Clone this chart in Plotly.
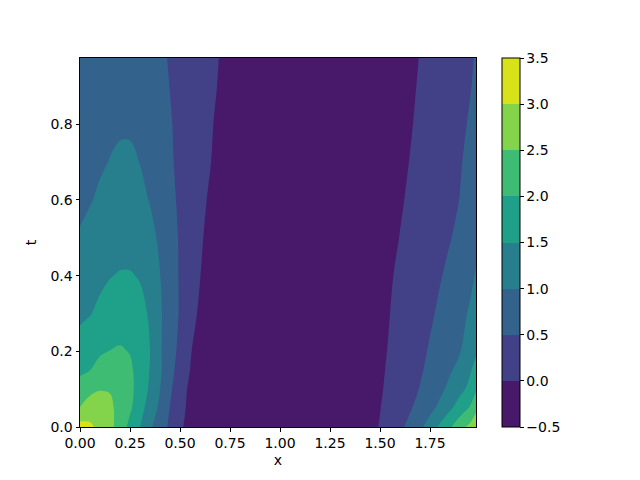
import plotly.graph_objects as go

# grid
X_NODES = [0.0, 0.05, 0.1, 0.15, 0.2, 0.25, 0.3, 0.35, 0.4, 0.45, 0.5, 0.6, 0.7,
           0.8, 1.0, 1.2, 1.4, 1.5, 1.6, 1.7, 1.75, 1.8, 1.85, 1.9, 1.95, 1.98]
T_NODES = [0.0, 0.05, 0.1, 0.15, 0.2, 0.3, 0.4, 0.5, 0.6, 0.7, 0.8, 0.9, 0.975]

# u(x, t), one row per t value
U = [
    [3.2, 3.1, 2.85, 2.62, 2.3, 1.85, 1.5, 1.08, 0.72, 0.42, 0.05, -0.25, -0.3,
     -0.3, -0.3, -0.3, -0.2, 0.02, 0.4, 0.9, 1.2, 1.6, 1.95, 2.35, 2.62, 2.78],
    [2.52, 2.72, 2.72, 2.6, 2.33, 2.08, 1.68, 1.28, 0.9, 0.48, 0.1, -0.25, -0.32,
     -0.33, -0.33, -0.32, -0.22, -0.01, 0.27, 0.65, 0.88, 1.1, 1.42, 1.72, 2.05, 2.4],
    [2.2, 2.38, 2.48, 2.47, 2.3, 2.12, 1.8, 1.42, 1.0, 0.6, 0.12, -0.22, -0.33,
     -0.35, -0.35, -0.33, -0.22, -0.04, 0.22, 0.52, 0.72, 0.9, 1.12, 1.38, 1.62, 1.93],
    [1.91, 2.0, 2.17, 2.25, 2.22, 2.08, 1.82, 1.48, 1.06, 0.7, 0.25, -0.25, -0.35,
     -0.37, -0.37, -0.35, -0.22, -0.06, 0.18, 0.45, 0.6, 0.78, 0.95, 1.15, 1.45, 1.65],
    [1.7, 1.82, 1.94, 2.01, 2.05, 1.98, 1.8, 1.5, 1.05, 0.75, 0.35, -0.25, -0.37,
     -0.39, -0.4, -0.37, -0.23, -0.08, 0.15, 0.38, 0.55, 0.7, 0.85, 0.98, 1.25, 1.45],
    [1.41, 1.48, 1.6, 1.7, 1.74, 1.72, 1.63, 1.45, 1.05, 0.78, 0.45, -0.08, -0.33,
     -0.4, -0.42, -0.4, -0.25, -0.12, 0.12, 0.3, 0.43, 0.58, 0.72, 0.88, 1.05, 1.17],
    [1.22, 1.3, 1.4, 1.48, 1.53, 1.53, 1.47, 1.25, 1.01, 0.75, 0.45, 0.01, -0.28,
     -0.4, -0.43, -0.42, -0.27, -0.16, 0.08, 0.25, 0.36, 0.47, 0.6, 0.75, 0.9, 1.03],
    [1.03, 1.1, 1.2, 1.28, 1.32, 1.32, 1.25, 1.12, 0.93, 0.7, 0.45, 0.05, -0.25,
     -0.4, -0.44, -0.43, -0.3, -0.2, 0.01, 0.2, 0.3, 0.4, 0.48, 0.6, 0.78, 0.9],
    [0.93, 0.98, 1.05, 1.12, 1.15, 1.15, 1.1, 0.98, 0.82, 0.62, 0.42, 0.1, -0.2,
     -0.38, -0.45, -0.44, -0.33, -0.2, -0.04, 0.15, 0.25, 0.33, 0.41, 0.51, 0.65, 0.75],
    [0.85, 0.9, 0.96, 1.01, 1.04, 1.04, 0.995, 0.9, 0.76, 0.57, 0.38, 0.15, -0.12,
     -0.33, -0.45, -0.45, -0.35, -0.22, -0.08, 0.1, 0.2, 0.28, 0.36, 0.47, 0.6, 0.68],
    [0.78, 0.83, 0.89, 0.94, 0.97, 0.97, 0.93, 0.84, 0.7, 0.54, 0.37, 0.16, -0.08,
     -0.28, -0.45, -0.45, -0.37, -0.24, -0.11, 0.06, 0.16, 0.24, 0.32, 0.42, 0.54, 0.62],
    [0.72, 0.77, 0.82, 0.87, 0.9, 0.9, 0.87, 0.79, 0.65, 0.49, 0.34, 0.17, -0.03,
     -0.23, -0.44, -0.45, -0.38, -0.26, -0.13, 0.03, 0.13, 0.2, 0.28, 0.37, 0.48, 0.56],
    [0.68, 0.72, 0.77, 0.81, 0.84, 0.84, 0.81, 0.74, 0.6, 0.46, 0.32, 0.17, -0.01,
     -0.2, -0.43, -0.45, -0.39, -0.27, -0.14, 0.01, 0.1, 0.18, 0.26, 0.34, 0.45, 0.53],
]

LEVELS_START, LEVELS_END, LEVELS_STEP = -0.5, 3.5, 0.5
X_TICKS = [0.0, 0.25, 0.5, 0.75, 1.0, 1.25, 1.5, 1.75]
T_TICKS = [0.0, 0.2, 0.4, 0.6, 0.8]
CBAR_TICKS = [-0.5, 0.0, 0.5, 1.0, 1.5, 2.0, 2.5, 3.0, 3.5]

# viridis sampled at the band midpoints (matplotlib contourf style)
BAND_COLORS = ["#48186a", "#424086", "#33638d", "#277f8e",
               "#1fa088", "#3fbc73", "#84d44b", "#d8e219"]


def step_scale(colors):
    # one flat step per band, so each band keeps a single colour
    n = len(colors)
    scale = []
    for k, c in enumerate(colors):
        scale.append([k / n, c])
        scale.append([(k + 1) / n, c])
    return scale


FONT = dict(family="DejaVu Sans", size=14, color="black")

fig = go.Figure(
    go.Contour(
        x=X_NODES, y=T_NODES, z=U,
        autocontour=False,
        contours=dict(start=LEVELS_START, end=LEVELS_END, size=LEVELS_STEP,
                      coloring="fill", showlines=False),
        zmin=LEVELS_START, zmax=LEVELS_END,
        line=dict(width=0, smoothing=1),
        colorscale=step_scale(BAND_COLORS),
        colorbar=dict(
            x=(502 - 80) / 560, xanchor="left", xpad=0,
            y=0.5, yanchor="middle", ypad=0,
            len=1, lenmode="fraction", thickness=18,
            outlinewidth=1, outlinecolor="black",
            ticks="outside", ticklen=3.5, tickwidth=0.8, tickcolor="black",
            tickmode="array", tickvals=CBAR_TICKS, tickformat=".1f",
            tickfont=FONT,
        ),
        hoverinfo="skip",
    )
)

axis_common = dict(
    showline=True, mirror=True, linecolor="black", linewidth=1,
    ticks="outside", ticklen=3.5, tickwidth=0.8, tickcolor="black",
    showgrid=False, zeroline=False, tickfont=FONT, automargin=False,
)

fig.update_layout(
    width=640, height=480,
    margin=dict(l=80, r=0, t=58, b=53),
    paper_bgcolor="white", plot_bgcolor="white",
    font=FONT,
    xaxis=dict(**axis_common, range=[0, 1.98], domain=[0, 396 / 560],
               tickmode="array", tickvals=X_TICKS, tickformat=".2f",
               title=dict(text="x", font=FONT, standoff=4)),
    yaxis=dict(**axis_common, range=[0, 0.975],
               tickmode="array", tickvals=T_TICKS, tickformat=".1f",
               title=dict(text="t", font=FONT, standoff=10)),
)

fig.write_html("out.html", config={"displayModeBar": False},
               post_script="document.body.style.margin='0';")
